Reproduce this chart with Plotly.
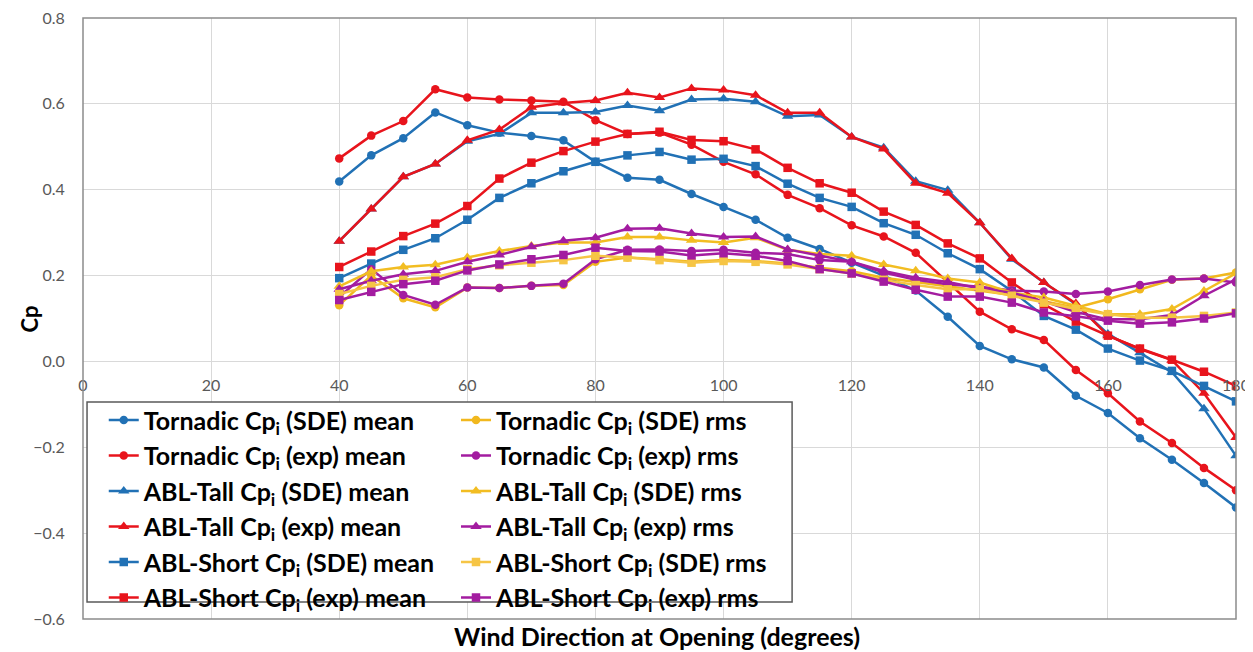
import plotly.graph_objects as go

wind_deg = [40, 45, 50, 55, 60, 65, 70, 75, 80, 85, 90, 95, 100, 105, 110,
            115, 120, 125, 130, 135, 140, 145, 150, 155, 160, 165, 170, 175, 180]

tornadic_sde_mean = [0.419, 0.48, 0.52, 0.58, 0.55, 0.533, 0.525, 0.515, 0.465, 0.428, 0.423, 0.39, 0.36, 0.33, 0.288,
                     0.262, 0.23, 0.2, 0.165, 0.104, 0.036, 0.005, -0.014, -0.08, -0.12, -0.179, -0.229, -0.283, -0.34]
tornadic_exp_mean = [0.473, 0.526, 0.56, 0.634, 0.615, 0.61, 0.608, 0.605, 0.562, 0.53, 0.533, 0.505, 0.465, 0.436, 0.388,
                     0.357, 0.317, 0.291, 0.253, 0.185, 0.116, 0.075, 0.05, -0.02, -0.074, -0.14, -0.19, -0.248, -0.30]
abl_tall_sde_mean = [0.28, 0.355, 0.43, 0.46, 0.513, 0.53, 0.579, 0.579, 0.581, 0.596, 0.584, 0.61, 0.612, 0.605, 0.571,
                     0.574, 0.523, 0.498, 0.42, 0.399, 0.323, 0.238, 0.184, 0.133, 0.064, 0.02, -0.025, -0.11, -0.22]
abl_tall_exp_mean = [0.28, 0.355, 0.43, 0.46, 0.515, 0.54, 0.592, 0.602, 0.608, 0.626, 0.615, 0.636, 0.632, 0.62, 0.579,
                     0.579, 0.523, 0.495, 0.415, 0.392, 0.323, 0.24, 0.184, 0.135, 0.06, 0.029, 0.003, -0.074, -0.177]
abl_short_sde_mean = [0.194, 0.228, 0.26, 0.287, 0.33, 0.381, 0.415, 0.443, 0.465, 0.48, 0.488, 0.47, 0.472, 0.455, 0.414,
                      0.381, 0.36, 0.322, 0.295, 0.252, 0.215, 0.164, 0.106, 0.074, 0.03, 0.002, -0.022, -0.057, -0.093]
abl_short_exp_mean = [0.22, 0.256, 0.292, 0.321, 0.362, 0.426, 0.463, 0.49, 0.512, 0.53, 0.535, 0.516, 0.513, 0.494, 0.451,
                      0.415, 0.393, 0.349, 0.318, 0.275, 0.24, 0.184, 0.133, 0.093, 0.06, 0.03, 0.004, -0.024, -0.057]

tornadic_sde_rms = [0.131, 0.2, 0.147, 0.126, 0.172, 0.171, 0.176, 0.178, 0.232, 0.242, 0.238, 0.232, 0.236, 0.234, 0.228,
                    0.218, 0.21, 0.195, 0.185, 0.175, 0.165, 0.155, 0.14, 0.125, 0.145, 0.168, 0.19, 0.193, 0.207]
tornadic_exp_rms = [0.15, 0.215, 0.155, 0.132, 0.172, 0.171, 0.176, 0.181, 0.238, 0.26, 0.261, 0.257, 0.26, 0.253, 0.25,
                    0.236, 0.232, 0.207, 0.19, 0.18, 0.174, 0.165, 0.163, 0.157, 0.163, 0.178, 0.191, 0.193, 0.184]
abl_tall_sde_rms = [0.175, 0.21, 0.22, 0.225, 0.242, 0.257, 0.269, 0.277, 0.277, 0.29, 0.29, 0.282, 0.277, 0.288, 0.26,
                    0.25, 0.246, 0.226, 0.211, 0.193, 0.184, 0.16, 0.149, 0.13, 0.11, 0.11, 0.122, 0.164, 0.205]
abl_tall_exp_rms = [0.168, 0.188, 0.203, 0.211, 0.232, 0.248, 0.267, 0.281, 0.288, 0.309, 0.31, 0.298, 0.29, 0.291, 0.261,
                    0.246, 0.232, 0.211, 0.195, 0.185, 0.17, 0.16, 0.14, 0.115, 0.098, 0.098, 0.108, 0.153, 0.191]
abl_short_sde_rms = [0.157, 0.176, 0.19, 0.196, 0.215, 0.224, 0.23, 0.236, 0.246, 0.242, 0.236, 0.23, 0.234, 0.232, 0.226,
                     0.215, 0.205, 0.19, 0.178, 0.168, 0.168, 0.153, 0.137, 0.122, 0.11, 0.102, 0.102, 0.106, 0.114]
abl_short_exp_rms = [0.143, 0.162, 0.18, 0.188, 0.212, 0.226, 0.238, 0.248, 0.265, 0.257, 0.256, 0.247, 0.252, 0.246, 0.234,
                     0.215, 0.205, 0.186, 0.167, 0.151, 0.151, 0.137, 0.114, 0.105, 0.095, 0.088, 0.091, 0.1, 0.112]

x_ticks = [0, 20, 40, 60, 80, 100, 120, 140, 160, 180]
y_ticks = [-0.6, -0.4, -0.2, 0.0, 0.2, 0.4, 0.6, 0.8]

BLUE = "#2171B5"
RED = "#E8141C"
GOLD1 = "#F1B81E"
GOLD2 = "#F2BD22"
GOLD3 = "#F6C545"
PURPLE = "#A31CA0"

series = [
    ("Tornadic Cp<sub>i</sub> (SDE) mean", tornadic_sde_mean, BLUE, "circle", "legend"),
    ("Tornadic Cp<sub>i</sub> (exp) mean", tornadic_exp_mean, RED, "circle", "legend"),
    ("ABL-Tall Cp<sub>i</sub> (SDE) mean", abl_tall_sde_mean, BLUE, "triangle-up", "legend"),
    ("ABL-Tall Cp<sub>i</sub> (exp) mean", abl_tall_exp_mean, RED, "triangle-up", "legend"),
    ("ABL-Short Cp<sub>i</sub> (SDE) mean", abl_short_sde_mean, BLUE, "square", "legend"),
    ("ABL-Short Cp<sub>i</sub> (exp) mean", abl_short_exp_mean, RED, "square", "legend"),
    ("Tornadic Cp<sub>i</sub> (SDE) rms", tornadic_sde_rms, GOLD1, "circle", "legend2"),
    ("Tornadic Cp<sub>i</sub> (exp) rms", tornadic_exp_rms, PURPLE, "circle", "legend2"),
    ("ABL-Tall Cp<sub>i</sub> (SDE) rms", abl_tall_sde_rms, GOLD2, "triangle-up", "legend2"),
    ("ABL-Tall Cp<sub>i</sub> (exp) rms", abl_tall_exp_rms, PURPLE, "triangle-up", "legend2"),
    ("ABL-Short Cp<sub>i</sub> (SDE) rms", abl_short_sde_rms, GOLD3, "square", "legend2"),
    ("ABL-Short Cp<sub>i</sub> (exp) rms", abl_short_exp_rms, PURPLE, "square", "legend2"),
]

fig = go.Figure()
for i, (name, vals, color, sym, leg) in enumerate(series):
    msize = 10 if sym == "triangle-up" else 8.5
    fig.add_trace(go.Scatter(
        x=wind_deg, y=vals, name=name, mode="lines+markers",
        line=dict(color=color, width=2.5),
        marker=dict(color=color, symbol=sym, size=msize),
        legend=leg, legendgroup="g%d" % i,
    ))

FONT = "Lato"
legend_common = dict(
    font=dict(family=FONT, size=25, color="#000000", weight="bold"),
    bgcolor="rgba(0,0,0,0)", borderwidth=0,
    orientation="v", xanchor="left", yanchor="top",
    tracegroupgap=0, itemwidth=30,
)

# The page body adds an 8 px margin, so the figure is sized 8 px smaller
fig.update_layout(
    width=1245, height=644,
    margin=dict(l=75, r=17, t=10, b=33, autoexpand=False),
    paper_bgcolor="white", plot_bgcolor="white",
    font=dict(family=FONT),
    xaxis=dict(
        range=[0, 180], tickmode="array", tickvals=x_ticks,
        showgrid=True, gridcolor="#D9D9D9", gridwidth=1,
        zeroline=False, showline=False, automargin=False,
        anchor="free", position=0.6 / 1.4,
        ticks="outside", ticklen=9, tickcolor="rgba(0,0,0,0)",
        tickfont=dict(family=FONT, size=16, color="#595959"),
        ticklabeloverflow="allow",
    ),
    yaxis=dict(
        range=[-0.6, 0.8], tickmode="array", tickvals=y_ticks, tickformat=".1f",
        showgrid=True, gridcolor="#D9D9D9", gridwidth=1,
        zeroline=False, showline=False, automargin=False,
        ticks="outside", ticklen=14, tickcolor="rgba(0,0,0,0)",
        tickfont=dict(family=FONT, size=16, color="#595959"),
        ticklabeloverflow="allow",
    ),
    showlegend=True,
    legend=dict(x=0.018, y=0.369, **legend_common),
    legend2=dict(x=0.3235, y=0.369, **legend_common),
    shapes=[
        dict(type="rect", xref="paper", yref="paper", x0=0, x1=1, y0=0, y1=1,
             line=dict(color="#8C8C8C", width=1.5), fillcolor="rgba(0,0,0,0)", layer="above"),
        dict(type="rect", xref="paper", yref="paper", x0=0.0035, x1=0.615, y0=0.0283, y1=0.361,
             line=dict(color="#5A5A5A", width=1.5), fillcolor="white", layer="above"),
    ],
    annotations=[
        dict(text="Wind Direction at Opening (degrees)", xref="paper", yref="paper",
             x=0.498, y=-0.0283, xanchor="center", yanchor="middle", showarrow=False,
             font=dict(family=FONT, size=25, color="#000000", weight="bold")),
        dict(text="Cp", xref="paper", yref="paper", textangle=-90,
             x=-0.046, y=0.5, xanchor="center", yanchor="middle", showarrow=False,
             font=dict(family=FONT, size=22, color="#000000", weight="bold")),
    ],
)

fig.write_html("out.html")
